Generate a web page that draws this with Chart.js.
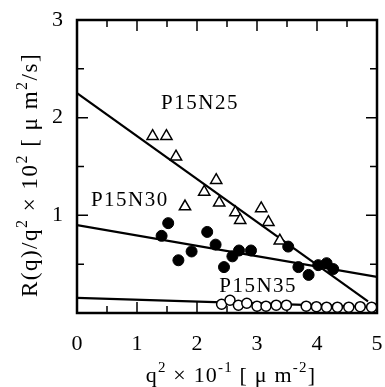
<!DOCTYPE html>
<html>
<head>
<meta charset="utf-8">
<script src="https://cdn.jsdelivr.net/npm/chart.js@4/dist/chart.umd.min.js"></script>
<style>
  body { margin: 0; background: #fff; }
  #wrap { width: 385px; height: 387px; }
</style>
</head>
<body>
<div id="wrap"><canvas id="chart"></canvas></div>
<script>
// P15N25 (open triangles)
const p25X = [1.26, 1.49, 1.65, 1.80, 2.12, 2.32, 2.37, 2.64, 2.72, 3.07, 3.19, 3.38];
const p25Y = [1.81, 1.81, 1.60, 1.09, 1.24, 1.36, 1.13, 1.03, 0.95, 1.07, 0.93, 0.74];
// P15N30 (filled circles)
const p30X = [1.41, 1.52, 1.69, 1.91, 2.17, 2.31, 2.45, 2.59, 2.70, 2.90, 3.52, 3.69, 3.86, 4.02, 4.16, 4.27];
const p30Y = [0.79, 0.92, 0.54, 0.63, 0.83, 0.70, 0.47, 0.58, 0.64, 0.64, 0.68, 0.47, 0.39, 0.49, 0.51, 0.45];
// P15N35 (open circles)
const p35X = [2.41, 2.55, 2.69, 2.83, 3.00, 3.15, 3.32, 3.49, 3.82, 3.99, 4.16, 4.34, 4.53, 4.72, 4.91];
const p35Y = [0.09, 0.13, 0.08, 0.10, 0.07, 0.07, 0.08, 0.08, 0.07, 0.065, 0.06, 0.06, 0.06, 0.065, 0.06];

// fitted lines (end points)
const fit25X = [0, 4.85], fit25Y = [2.25, 0.12];
const fit30X = [0, 5], fit30Y = [0.90, 0.37];
const fit35X = [0, 5], fit35Y = [0.155, 0.06];

const xTicks = [0, 1, 2, 3, 4, 5];
const yTicks = [0, 1, 2, 3];

// series labels, in data units
const seriesLabels = ['P15N25', 'P15N30', 'P15N35'];
const labelX = [2.05, 0.88, 3.02];
const labelY = [2.15, 1.15, 0.27];

const serif = '"Liberation Serif", "Times New Roman", serif';

const pts = (xs, ys) => xs.map((x, i) => ({ x: x, y: ys[i] }));

// axis titles with superscripts: [text, isSup]
const xTitle = [['q', 0], ['2', 1], [' \u00d7 10', 0], ['-1', 1], [' [ \u03bc m', 0], ['-2', 1], [']', 0]];
const yTitle = [['R(q)/q', 0], ['2', 1], [' \u00d7 10', 0], ['2', 1], [' [ \u03bc m', 0], ['2', 1], ['/s]', 0]];

function richText(ctx, parts, cx, cy, size, spacing) {
  const supSize = Math.round(size * 0.68);
  ctx.letterSpacing = spacing + 'px';
  let w = 0;
  parts.forEach(p => {
    ctx.font = (p[1] ? supSize : size) + 'px ' + serif;
    w += ctx.measureText(p[0]).width;
  });
  let x = cx - w / 2;
  ctx.textBaseline = 'alphabetic';
  ctx.textAlign = 'left';
  parts.forEach(p => {
    ctx.font = (p[1] ? supSize : size) + 'px ' + serif;
    ctx.fillText(p[0], x, cy + size * 0.35 - (p[1] ? size * 0.42 : 0));
    x += ctx.measureText(p[0]).width;
  });
  ctx.letterSpacing = '0px';
}

const framePlugin = {
  id: 'frame',
  beforeDatasetsDraw(chart) {
    const { ctx, chartArea: a, scales } = chart;
    ctx.save();
    ctx.strokeStyle = '#000';
    ctx.lineWidth = 1.5;
    // inward ticks
    for (let v = 0.5; v < 5; v += 0.5) {
      const px = scales.x.getPixelForValue(v);
      const len = Number.isInteger(v) ? 11 : 7;
      ctx.beginPath();
      ctx.moveTo(px, a.bottom); ctx.lineTo(px, a.bottom - len);
      ctx.moveTo(px, a.top); ctx.lineTo(px, a.top + len);
      ctx.stroke();
    }
    for (let v = 0.5; v < 3; v += 0.5) {
      const py = scales.y.getPixelForValue(v);
      const len = Number.isInteger(v) ? 11 : 7;
      ctx.beginPath();
      ctx.moveTo(a.left, py); ctx.lineTo(a.left + len, py);
      ctx.moveTo(a.right, py); ctx.lineTo(a.right - len, py);
      ctx.stroke();
    }
    ctx.lineWidth = 2.5;
    ctx.strokeRect(a.left, a.top, a.right - a.left, a.bottom - a.top);
    ctx.restore();
  },
  afterDraw(chart) {
    const { ctx, chartArea: a, scales } = chart;
    ctx.save();
    ctx.fillStyle = '#000';
    ctx.font = '21px ' + serif;
    ctx.letterSpacing = '1.5px';
    ctx.textAlign = 'center';
    ctx.textBaseline = 'middle';
    seriesLabels.forEach((t, i) => {
      ctx.fillText(t, scales.x.getPixelForValue(labelX[i]), scales.y.getPixelForValue(labelY[i]));
    });
    richText(ctx, xTitle, (a.left + a.right) / 2 + 4, 374, 22, 1.2);
    ctx.translate(29, 175);
    ctx.rotate(-Math.PI / 2);
    richText(ctx, yTitle, 0, 0, 23, 1.5);
    ctx.restore();
  }
};

new Chart(document.getElementById('chart'), {
  type: 'scatter',
  data: {
    datasets: [
      { data: pts(p25X, p25Y), pointStyle: 'triangle', pointRadius: 6.5, backgroundColor: '#fff', borderColor: '#000', borderWidth: 1.5 },
      { data: pts(p30X, p30Y), pointStyle: 'circle', pointRadius: 5.5, backgroundColor: '#000', borderColor: '#000', borderWidth: 1 },
      { data: pts(p35X, p35Y), pointStyle: 'circle', pointRadius: 5, backgroundColor: '#fff', borderColor: '#000', borderWidth: 1.5 },
      { data: pts(fit25X, fit25Y), showLine: true, pointRadius: 0, borderColor: '#000', borderWidth: 2.2 },
      { data: pts(fit30X, fit30Y), showLine: true, pointRadius: 0, borderColor: '#000', borderWidth: 2.2 },
      { data: pts(fit35X, fit35Y), showLine: true, pointRadius: 0, borderColor: '#000', borderWidth: 2.2 }
    ]
  },
  options: {
    responsive: true,
    maintainAspectRatio: false,
    animation: false,
    layout: { padding: { left: 0, top: 20, right: 8, bottom: 0 } },
    plugins: { legend: { display: false }, tooltip: { enabled: false } },
    scales: {
      x: {
        type: 'linear', min: 0, max: 5,
        afterBuildTicks: s => { s.ticks = xTicks.map(v => ({ value: v })); },
        afterFit: s => { s.height = 74; s.paddingLeft = 0; s.paddingRight = 0; },
        grid: { display: false },
        border: { display: false },
        ticks: { autoSkip: false, maxRotation: 0, padding: 10, color: '#000', font: { family: serif, size: 22 } }
      },
      y: {
        type: 'linear', min: 0, max: 3,
        afterBuildTicks: s => { s.ticks = yTicks.map(v => ({ value: v })); },
        afterFit: s => { s.width = 77; s.paddingTop = 0; s.paddingBottom = 0; },
        grid: { display: false },
        border: { display: false },
        ticks: { padding: 6, color: '#000', font: { family: serif, size: 22 }, callback: v => (v === 0 ? '' : v) }
      }
    }
  },
  plugins: [framePlugin]
});
</script>
</body>
</html>
